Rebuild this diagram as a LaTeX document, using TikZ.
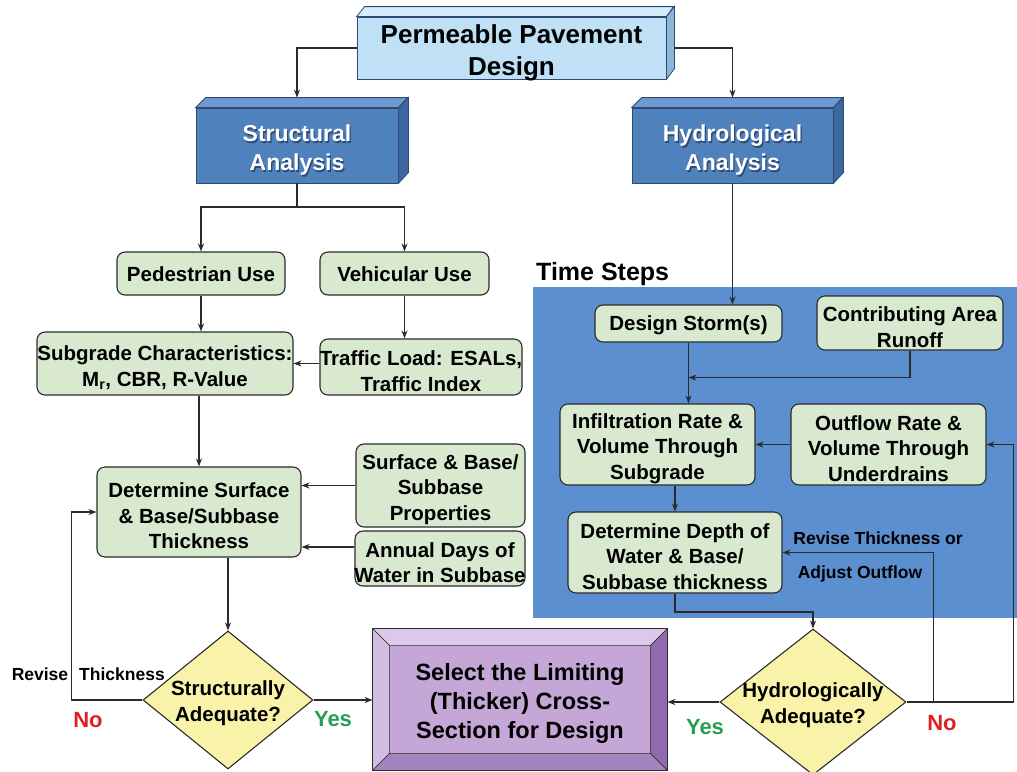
\documentclass[tikz,border=0pt]{standalone}
\usepackage{fontspec}
\setmainfont{Liberation Sans}
\usetikzlibrary{shapes.geometric,arrows.meta,calc}
\definecolor{tsblue}{HTML}{5B8FD0}
\definecolor{anblue}{HTML}{4F81BD}
\definecolor{antop}{HTML}{6F9AD0}
\definecolor{anside}{HTML}{3C689F}
\definecolor{anedge}{HTML}{2C4A75}
\definecolor{topfill}{HTML}{BFE0F5}
\definecolor{toptop}{HTML}{D6ECFA}
\definecolor{topside}{HTML}{8DB6D8}
\definecolor{gfill}{HTML}{D8E9D0}
\definecolor{yfill}{HTML}{F9F3A9}
\definecolor{pface}{HTML}{C4A7D7}
\definecolor{ptop}{HTML}{DCC8E8}
\definecolor{pleft}{HTML}{D2BCE2}
\definecolor{pright}{HTML}{8F6AAE}
\definecolor{pbottom}{HTML}{A383C0}
\definecolor{lncol}{HTML}{2B2B2B}
\definecolor{nored}{HTML}{E02020}
\definecolor{yesgreen}{HTML}{23A050}
\newcommand\gft{\fontsize{20.5}{25.5}\selectfont\bfseries}
\tikzset{
  arr/.style={->,draw=lncol,line width=1.1pt},
  ln/.style={draw=lncol,line width=1.1pt},
  gbox/.style={draw=lncol,fill=gfill,rounded corners=8pt,line width=1.1pt,inner sep=0pt},
  gtext/.style={align=center,font=\gft,inner sep=0pt},
  dia/.style={diamond,draw=lncol,fill=yfill,line width=1.1pt,inner sep=0pt},
  bluebox/.style={fill=anblue,draw=anedge,line width=0.8pt,inner sep=0pt},
  btext/.style={text=white,align=center,font=\fontsize{23}{29}\selectfont\bfseries},
  bshadow/.style={text=anedge,align=center,font=\fontsize{23}{29}\selectfont\bfseries},
  lbl/.style={font=\fontsize{17.5}{21}\selectfont\bfseries,inner sep=0pt},
  yn/.style={font=\fontsize{22}{26}\selectfont\bfseries,inner sep=0pt}
}
% name, x, y, width, height, y-offset of text, text
\newcommand\gnode[7]{%
  \node[gbox,minimum width=#4pt,minimum height=#5pt] (#1) at (#2,#3) {};
  \node[gtext] (#1t) at ($(#1.center)+(0,#6)$) {#7};}
\begin{document}
\begin{tikzpicture}[x=1pt,y=-1pt,>={Stealth[length=8pt,width=6pt]}]
\useasboundingbox (0,0) rectangle (1017,771);
% time steps area
\fill[tsblue] (533,287) rectangle (1017,618);
\node[font=\fontsize{25}{30}\selectfont\bfseries,anchor=west,inner sep=0pt] (ts) at (536,274) {Time Steps};

% top box
\node[fill=topfill,draw=anedge,line width=0.8pt,minimum width=309pt,minimum height=62pt,inner sep=0pt] (top) at (511.5,48) {};
\filldraw[fill=toptop,draw=anedge,line width=0.8pt] (top.north west) -- ++(8,-10) -- ++(309,0) -- (top.north east) -- cycle;
\filldraw[fill=topside,draw=anedge,line width=0.8pt] (top.north east) -- ++(8,-10) -- ++(0,62) -- (top.south east) -- cycle;
\node[align=center,font=\fontsize{26}{32}\selectfont\bfseries,inner sep=0pt] (topt) at ($(top.center)+(0,5)$) {Permeable Pavement\\Design};

% structural
\node[bluebox,minimum width=202pt,minimum height=75pt] (str) at (297,145.5) {};
\filldraw[fill=antop,draw=anedge,line width=0.8pt] (str.north west) -- ++(10,-10) -- ++(202,0) -- (str.north east) -- cycle;
\filldraw[fill=anside,draw=anedge,line width=0.8pt] (str.north east) -- ++(10,-10) -- ++(0,75) -- (str.south east) -- cycle;
\node[bshadow] (strs) at ($(str.center)+(1.3,6.3)$) {Structural\\Analysis};
\node[btext] (strt) at ($(str.center)+(0,5)$) {Structural\\Analysis};

% hydrological
\node[bluebox,minimum width=201pt,minimum height=75pt] (hyd) at (732.5,145.5) {};
\filldraw[fill=antop,draw=anedge,line width=0.8pt] (hyd.north west) -- ++(10,-10) -- ++(201,0) -- (hyd.north east) -- cycle;
\filldraw[fill=anside,draw=anedge,line width=0.8pt] (hyd.north east) -- ++(10,-10) -- ++(0,75) -- (hyd.south east) -- cycle;
\node[bshadow] (hyds) at ($(hyd.center)+(1.3,6.3)$) {Hydrological\\Analysis};
\node[btext] (hydt) at ($(hyd.center)+(0,5)$) {Hydrological\\Analysis};

% green boxes
\gnode{ped}{201}{273.5}{168}{43}{1}{Pedestrian Use}
\gnode{veh}{404.5}{273.5}{169}{43}{1}{Vehicular Use}
\gnode{sub}{165}{363.5}{256}{63}{4}{Subgrade Characteristics:\\M\textsubscript{r}, CBR, R-Value}
\gnode{trf}{421}{367}{202}{56}{4}{Traffic Load: ESALs,\\Traffic Index}
\gnode{det}{199}{512}{204}{90}{4}{Determine Surface\\\& Base/Subbase\\Thickness}
\gnode{surf}{440.5}{485.5}{169}{83}{4}{Surface \& Base/\\Subbase\\Properties}
\gnode{ann}{440}{558.5}{170}{55}{4}{Annual Days of\\Water in Subbase}
\gnode{ds}{688.5}{323.5}{187}{37}{2}{Design Storm(s)}
\gnode{car}{910}{323}{186}{54}{4}{Contributing Area\\Runoff}
\gnode{inf}{657.5}{444.5}{195}{81}{4}{Infiltration Rate \&\\Volume Through\\Subgrade}
\gnode{out}{888.5}{444.5}{195}{81}{4}{Outflow Rate \&\\Volume Through\\Underdrains}
\gnode{dep}{675}{552.5}{214}{81}{4}{Determine Depth of\\Water \& Base/\\Subbase thickness}

% diamonds
\node[dia,minimum width=170pt,minimum height=138pt] (sdia) at (228,700) {};
\node[gtext] (sdiat) at ($(sdia.center)+(0,3)$) {Structurally\\Adequate?};
\node[dia,minimum width=186pt,minimum height=146pt] (hdia) at (813,702) {};
\node[gtext] (hdiat) at ($(hdia.center)+(0,3)$) {Hydrologically\\Adequate?};

% select box
\node[fill=pface,draw=lncol,line width=0.8pt,minimum width=294pt,minimum height=141pt,inner sep=0pt] (sel) at (520,699.5) {};
\filldraw[fill=ptop,draw=lncol,line width=0.5pt] (sel.north west) -- (sel.north east) -- ($(sel.north east)+(-17,17)$) -- ($(sel.north west)+(17,17)$) -- cycle;
\filldraw[fill=pleft,draw=lncol,line width=0.5pt] (sel.north west) -- ($(sel.north west)+(17,17)$) -- ($(sel.south west)+(17,-17)$) -- (sel.south west) -- cycle;
\filldraw[fill=pright,draw=lncol,line width=0.5pt] (sel.north east) -- ($(sel.north east)+(-17,17)$) -- ($(sel.south east)+(-17,-17)$) -- (sel.south east) -- cycle;
\filldraw[fill=pbottom,draw=lncol,line width=0.5pt] (sel.south west) -- ($(sel.south west)+(17,-17)$) -- ($(sel.south east)+(-17,-17)$) -- (sel.south east) -- cycle;
\draw[draw=lncol,line width=0.8pt] (sel.north west) rectangle (sel.south east);
\node[align=center,font=\fontsize{23.5}{29}\selectfont\bfseries,inner sep=0pt] (selt) at ($(sel.center)+(0,4)$) {Select the Limiting\\(Thicker) Cross-\\Section for Design};

% connectors
\draw[arr] (top.west) -| ([yshift=10pt]str.north);
\draw[arr] ([xshift=8pt]top.east) -| ([yshift=10pt]hyd.north);
\coordinate (split) at (297,207);
\draw[ln] (str.south) -- (split);
\draw[arr] (split) -| (ped.north);
\draw[arr] (split) -| (veh.north);
\draw[arr] (ped.south) -- (ped.south |- sub.north);
\draw[arr] (veh.south) -- (veh.south |- trf.north);
\draw[arr] (trf.west |- sub.east) -- (sub.east);
\draw[arr] (det.north |- sub.south) -- (det.north);
\draw[arr] (surf.west) -- (surf.west -| det.east);
\coordinate (annout) at ($(ann.west)+(0,-11.5)$);
\draw[arr] (annout) -- (annout -| det.east);
\draw[arr] (det.south -| sdia.north) -- (sdia.north);
\draw[arr] (sdia.west) -- ++(-71,0) |- (det.west);
\draw[arr] (sdia.east) -- (sel.west |- sdia.east);
\draw[arr] (hyd.south) -- (hyd.south |- ds.north);
\draw[arr] (ds.south) -- (ds.south |- inf.north);
\coordinate (merge) at ($(ds.south)+(0,35)$);
\draw[arr] (car.south) |- (merge);
\draw[arr] (out.west) -- (inf.east);
\draw[arr] (dep.north |- inf.south) -- (dep.north);
\coordinate (bend) at (813,612);
\draw[arr] (dep.south) |- (bend) -- (hdia.north);
\draw[arr] (hdia.west) -- (sel.east |- hdia.west);
\draw[arr] (hdia.east) -- ++(107,0) |- (out.east);
\coordinate (branch) at ($(hdia.east)+(27,0)$);
\draw[arr] (branch) |- (dep.east);

% labels
\node[lbl] (rv) at (40,674) {Revise};
\node[lbl] (th) at (122,674) {Thickness};
\node[yn,text=nored] (no1) at (88,720) {No};
\node[yn,text=yesgreen] (yes1) at (333,719) {Yes};
\node[yn,text=yesgreen] (yes2) at (705,727) {Yes};
\node[yn,text=nored] (no2) at (942,723) {No};
\node[lbl] (rto) at (878,538) {Revise Thickness or};
\node[lbl] (ao) at (860,574) {Adjust Outflow};
\end{tikzpicture}
\end{document}
